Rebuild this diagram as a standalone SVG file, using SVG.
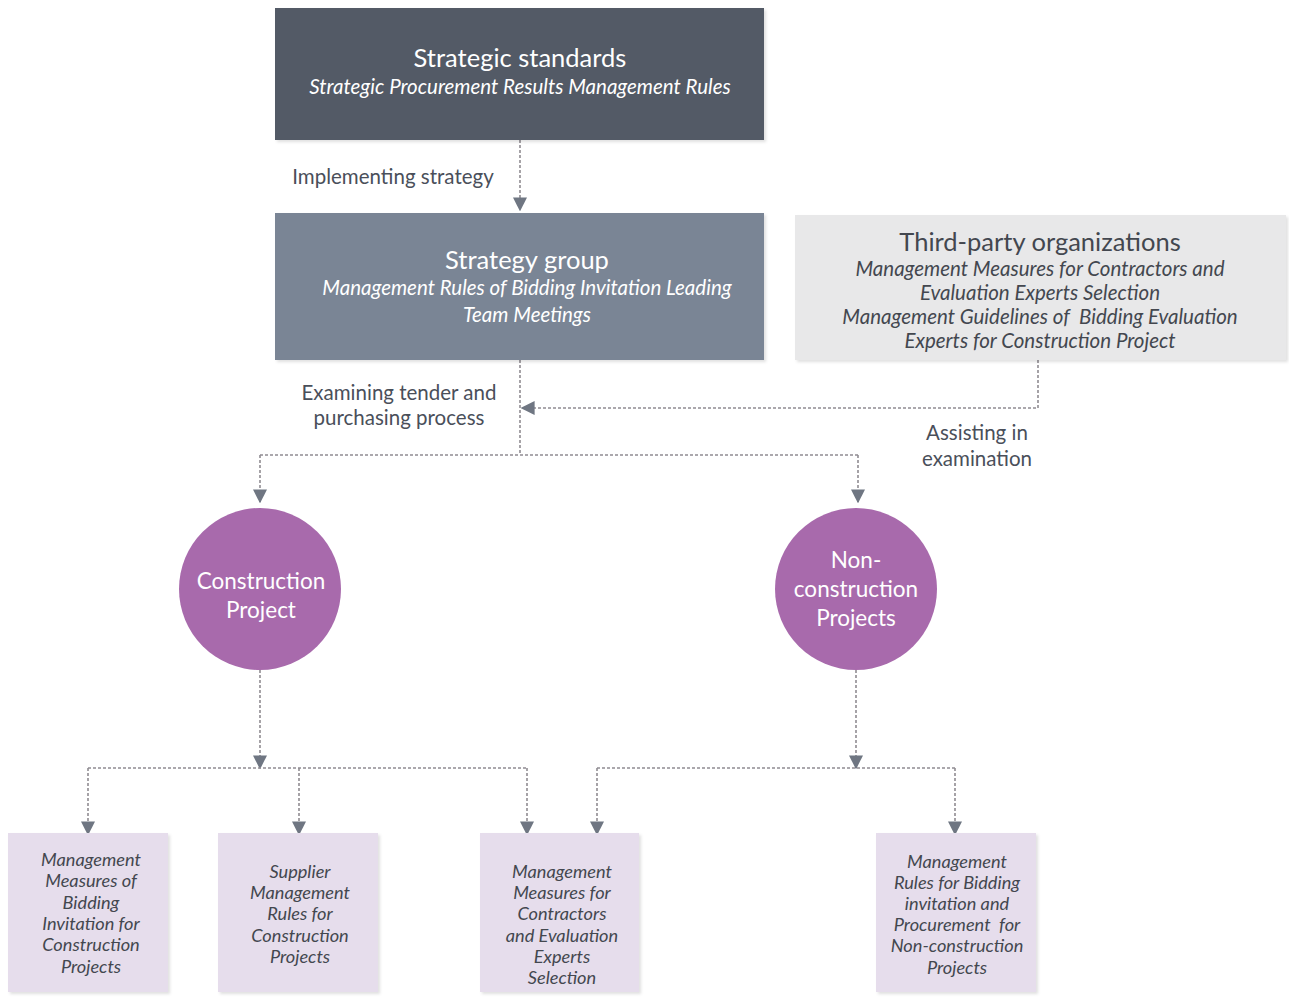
<svg xmlns="http://www.w3.org/2000/svg" width="1289" height="997" viewBox="0 0 1289 997">
  <defs>
    <marker id="arrow" viewBox="0 0 10 10" refX="9" refY="5" markerWidth="14" markerHeight="14" markerUnits="userSpaceOnUse" orient="auto">
      <path d="M0,0 L10,5 L0,10 Z" fill="#6f7682"/>
    </marker>
    <filter id="shadow" x="-5%" y="-5%" width="115%" height="115%">
      <feDropShadow dx="2" dy="2" stdDeviation="1.5" flood-color="#000" flood-opacity="0.12"/>
    </filter>
  </defs>
  <style>
    text { font-family: Lato, "Noto Sans", sans-serif; text-anchor: middle; }
    .title { font-size: 25.5px; fill: #ffffff; }
    .sub { font-size: 20.5px; font-style: italic; fill: #ffffff; }
    .dark { fill: #43474f; }
    .lbl { font-size: 20.5px; fill: #4a4f5a; }
    .circ { font-size: 22.5px; fill: #ffffff; }
    .leaf { font-size: 18.2px; font-style: italic; fill: #43474f; }
    .conn { fill: none; stroke: #908c92; stroke-width: 1.6; stroke-dasharray: 3 2; }
    .leafbox { fill: #e6ddec; filter: url(#shadow); }
  </style>
  <rect width="1289" height="997" fill="#ffffff"/>

  <!-- connectors -->
  <g id="connectors">
    <path class="conn" d="M520,140 V210" marker-end="url(#arrow)"/>
    <path class="conn" d="M520,360 V455"/>
    <path class="conn" d="M1038,360 V408 H522" marker-end="url(#arrow)"/>
    <path class="conn" d="M260,455 H858"/>
    <path class="conn" d="M260,455 V502" marker-end="url(#arrow)"/>
    <path class="conn" d="M858,455 V502" marker-end="url(#arrow)"/>
    <path class="conn" d="M260,670 V768" marker-end="url(#arrow)"/>
    <path class="conn" d="M88,768 H527"/>
    <path class="conn" d="M88,768 V834" marker-end="url(#arrow)"/>
    <path class="conn" d="M299,768 V834" marker-end="url(#arrow)"/>
    <path class="conn" d="M527,768 V834" marker-end="url(#arrow)"/>
    <path class="conn" d="M856,670 V768" marker-end="url(#arrow)"/>
    <path class="conn" d="M597,768 H955"/>
    <path class="conn" d="M597,768 V834" marker-end="url(#arrow)"/>
    <path class="conn" d="M955,768 V834" marker-end="url(#arrow)"/>
  </g>

  <!-- connector labels -->
  <g id="labels">
    <text class="lbl" x="393" y="184">Implementing strategy</text>
    <text class="lbl" x="399" y="400">Examining tender and</text>
    <text class="lbl" x="399" y="425">purchasing process</text>
    <text class="lbl" x="977" y="440">Assisting in</text>
    <text class="lbl" x="977" y="466">examination</text>
  </g>

  <g id="strategic-standards">
    <rect x="275" y="8" width="489" height="132" fill="#535a66" filter="url(#shadow)"/>
    <text class="title" x="520" y="67">Strategic standards</text>
    <text class="sub" x="520" y="94">Strategic Procurement Results Management Rules</text>
  </g>

  <g id="strategy-group">
    <rect x="275" y="213" width="489" height="147" fill="#7a8595" filter="url(#shadow)"/>
    <text class="title" x="527" y="269">Strategy group</text>
    <text class="sub" x="527" y="295">Management Rules of Bidding Invitation Leading</text>
    <text class="sub" x="527" y="322">Team Meetings</text>
  </g>

  <g id="third-party">
    <rect x="795" y="215" width="491" height="145" fill="#e8e8e9" filter="url(#shadow)"/>
    <text class="title dark" x="1040" y="251">Third-party organizations</text>
    <text class="sub dark" x="1040" y="276">Management Measures for Contractors and</text>
    <text class="sub dark" x="1040" y="300">Evaluation Experts Selection</text>
    <text class="sub dark" x="1040" y="324" xml:space="preserve">Management Guidelines of  Bidding Evaluation</text>
    <text class="sub dark" x="1040" y="348">Experts for Construction Project</text>
  </g>

  <g id="construction-project">
    <circle cx="260" cy="589" r="81" fill="#a86aac"/>
    <text class="circ" x="261" y="589">Construction</text>
    <text class="circ" x="261" y="618">Project</text>
  </g>

  <g id="non-construction-projects">
    <circle cx="856" cy="589" r="81" fill="#a86aac"/>
    <text class="circ" x="856" y="568">Non-</text>
    <text class="circ" x="856" y="597">construction</text>
    <text class="circ" x="856" y="626">Projects</text>
  </g>

  <g id="leaf-bidding-construction">
    <rect class="leafbox" x="8" y="833" width="160" height="159"/>
    <text class="leaf" x="91" y="866">Management</text>
    <text class="leaf" x="91" y="887">Measures of</text>
    <text class="leaf" x="91" y="909">Bidding</text>
    <text class="leaf" x="91" y="930">Invitation for</text>
    <text class="leaf" x="91" y="951">Construction</text>
    <text class="leaf" x="91" y="973">Projects</text>
  </g>

  <g id="leaf-supplier">
    <rect class="leafbox" x="218" y="833" width="160" height="159"/>
    <text class="leaf" x="300" y="878">Supplier</text>
    <text class="leaf" x="300" y="899">Management</text>
    <text class="leaf" x="300" y="920">Rules for</text>
    <text class="leaf" x="300" y="942">Construction</text>
    <text class="leaf" x="300" y="963">Projects</text>
  </g>

  <g id="leaf-contractors">
    <rect class="leafbox" x="480" y="833" width="159" height="159"/>
    <text class="leaf" x="562" y="878">Management</text>
    <text class="leaf" x="562" y="899">Measures for</text>
    <text class="leaf" x="562" y="920">Contractors</text>
    <text class="leaf" x="562" y="942">and Evaluation</text>
    <text class="leaf" x="562" y="963">Experts</text>
    <text class="leaf" x="562" y="984">Selection</text>
  </g>

  <g id="leaf-non-construction">
    <rect class="leafbox" x="876" y="833" width="160" height="159"/>
    <text class="leaf" x="957" y="868">Management</text>
    <text class="leaf" x="957" y="889">Rules for Bidding</text>
    <text class="leaf" x="957" y="910">invitation and</text>
    <text class="leaf" x="957" y="931" xml:space="preserve">Procurement  for</text>
    <text class="leaf" x="957" y="952">Non-construction</text>
    <text class="leaf" x="957" y="974">Projects</text>
  </g>
</svg>
